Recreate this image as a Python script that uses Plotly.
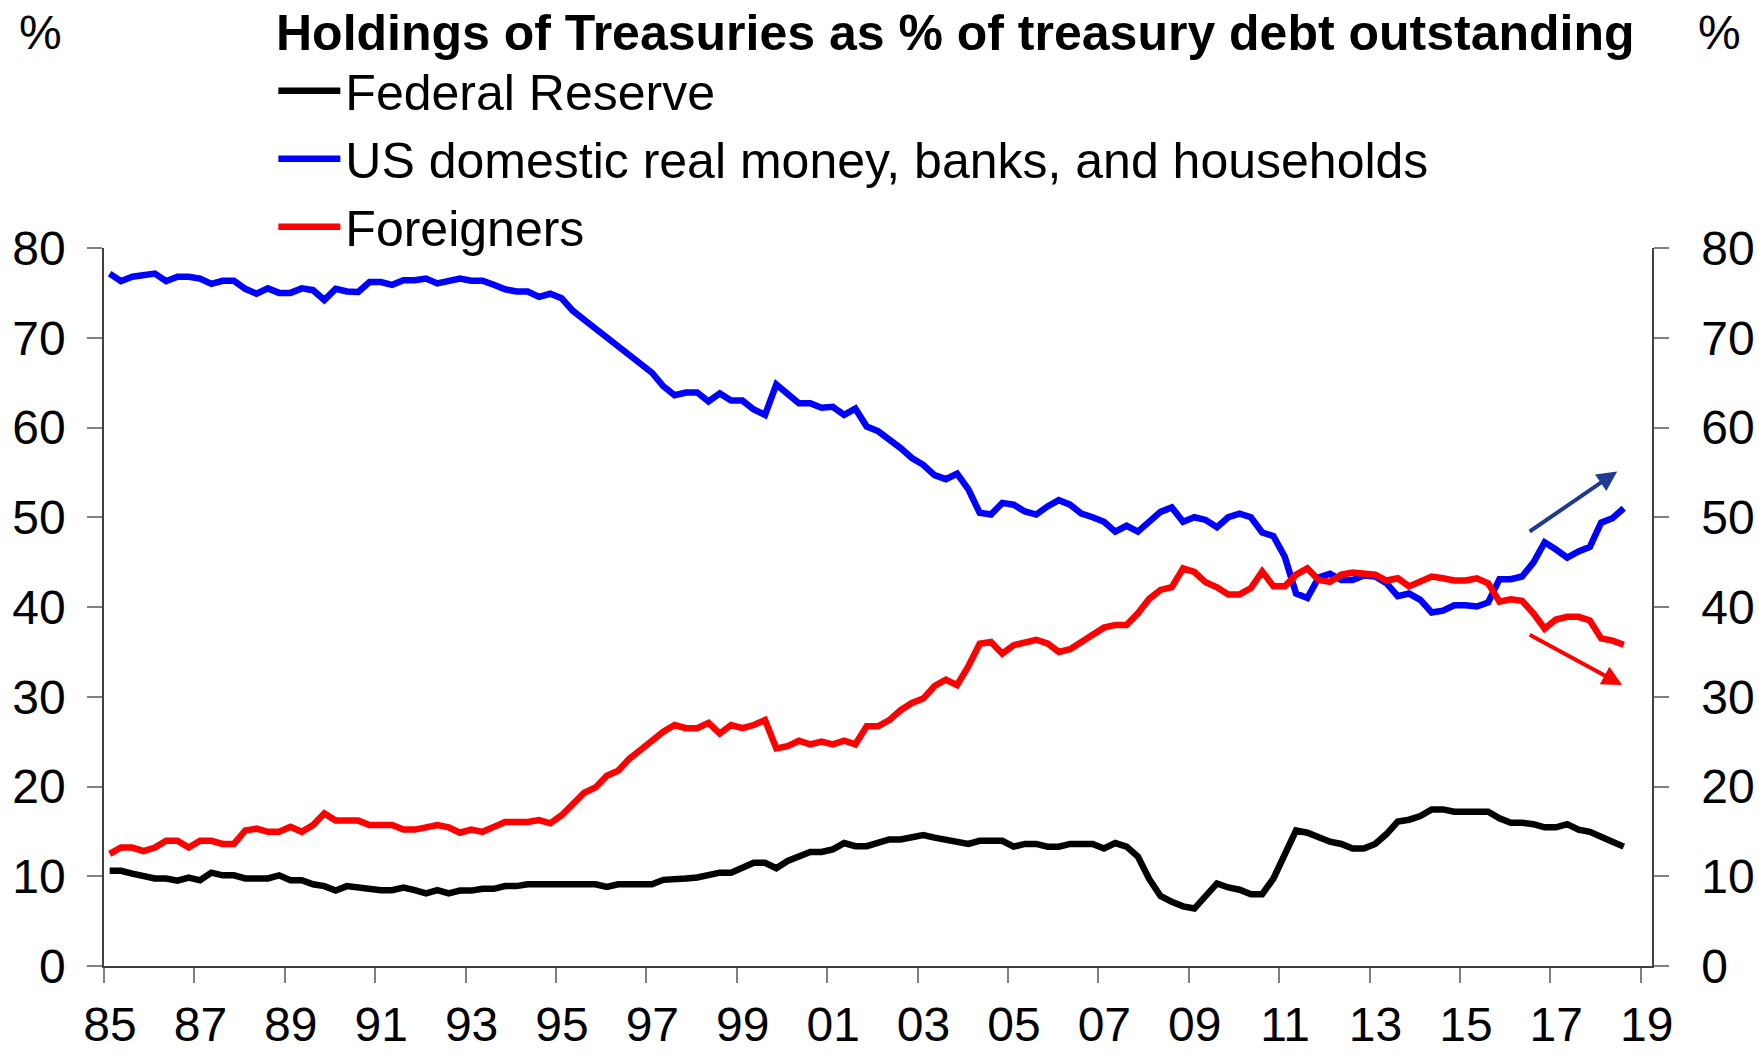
import plotly.graph_objects as go

# Quarterly data, 1985Q1 .. 2018Q3 (% of treasury debt outstanding)
federal_reserve = [
    10.6, 10.6, 10.3, 10.1, 9.75, 9.75, 9.5, 9.85, 9.55, 10.4,
    10.1, 10.1, 9.75, 9.75, 9.75, 10.1, 9.55, 9.55, 9.1, 8.9,
    8.4, 8.9, 8.75, 8.45, 8.45, 8.45, 8.75, 8.45, 8.1, 8.45,
    8.1, 8.4, 8.4, 8.6, 8.6, 8.9, 8.9, 9.1, 9.1, 9.1,
    9.1, 9.1, 9.1, 9.1, 8.8, 9.1, 9.1, 9.1, 9.1, 9.6,
    9.6, 9.75, 9.86, 10.1, 10.4, 10.4, 10.9, 11.5, 11.5, 10.9,
    11.7, 12.2, 12.7, 12.7, 13.0, 13.7, 13.35, 13.35, 13.8, 14.1,
    14.1, 14.3, 14.6, 14.3, 14.1, 13.8, 13.6, 13.95, 13.95, 13.95,
    13.3, 13.6, 13.6, 13.3, 13.3, 13.6, 13.6, 13.6, 13.1, 13.7,
    13.3, 12.2, 9.7, 7.8, 7.15, 6.65, 6.4, 7.9, 9.2, 8.75,
    8.5, 8.0, 8.0, 9.75, 12.55, 15.1, 14.85, 14.3, 13.85, 13.6,
    13.1, 13.1, 13.6, 14.7, 16.1, 16.3, 16.7, 17.45, 17.45, 17.2,
    17.2, 17.2, 17.2, 16.45, 15.95, 15.95, 15.8, 15.45, 15.45, 15.8,
    15.2, 14.95, 14.3, 13.85, 13.3,
]

us_domestic = [
    77.15, 76.3, 76.8, 77.0, 77.15, 76.3, 76.8, 76.8, 76.6, 76.0,
    76.35, 76.35, 75.45, 74.9, 75.5, 75.0, 75.0, 75.5, 75.3, 74.2,
    75.45, 75.15, 75.1, 76.2, 76.2, 75.9, 76.4, 76.4, 76.6, 76.05,
    76.35, 76.6, 76.35, 76.35, 75.9, 75.4, 75.15, 75.15, 74.55, 74.9,
    74.4, 73.0, 72.0, 71.0, 70.0, 69.1, 68.2, 67.1, 66.1, 64.6,
    63.6, 63.9, 63.9, 62.9, 63.8, 63.0, 63.0, 62.0, 61.4, 64.8,
    63.8, 62.7, 62.7, 62.2, 62.3, 61.4, 62.1, 60.1, 59.6, 58.7,
    57.7, 56.6, 55.85, 54.7, 54.25, 54.85, 53.1, 50.5, 50.3, 51.6,
    51.4, 50.65, 50.3, 51.2, 51.9, 51.4, 50.4, 50.0, 49.5, 48.4,
    49.05, 48.4, 49.6, 50.6, 51.1, 49.5, 50.0, 49.7, 48.9, 50.0,
    50.4, 50.0, 48.3, 47.9, 45.6, 41.5, 41.0, 43.3, 43.7, 43.0,
    43.0, 43.5, 43.4, 42.65, 41.2, 41.5, 40.8, 39.4, 39.6, 40.2,
    40.2, 40.05, 40.5, 43.1, 43.1, 43.4, 44.95, 47.2, 46.4, 45.5,
    46.2, 46.7, 49.4, 49.9, 51.0,
]

foreigners = [
    12.5, 13.2, 13.2, 12.8, 13.2, 13.95, 13.95, 13.2, 13.95, 13.95,
    13.6, 13.6, 15.1, 15.3, 14.95, 14.95, 15.5, 14.95, 15.7, 17.0,
    16.2, 16.2, 16.2, 15.7, 15.7, 15.7, 15.2, 15.2, 15.45, 15.7,
    15.45, 14.85, 15.2, 14.95, 15.5, 16.05, 16.05, 16.05, 16.25, 15.9,
    16.8, 18.15, 19.3, 19.9, 21.2, 21.75, 23.1, 24.1, 25.2, 26.1,
    26.85, 26.5, 26.5, 27.1, 25.9, 26.85, 26.5, 26.85, 27.4, 24.25,
    24.5, 25.1, 24.7, 25.0, 24.7, 25.1, 24.7, 26.7, 26.7, 27.4,
    28.5, 29.3, 29.8, 31.2, 31.9, 31.3, 33.4, 35.9, 36.1, 34.8,
    35.75, 36.1, 36.35, 35.95, 35.0, 35.3, 36.2, 36.9, 37.7, 38.0,
    38.0, 39.3, 40.9, 41.9, 42.2, 44.3, 43.9, 42.75, 42.2, 41.4,
    41.4, 42.1, 43.95, 42.3, 42.3, 43.6, 44.3, 43.0, 42.8, 43.6,
    43.85, 43.7, 43.6, 42.95, 43.2, 42.3, 42.8, 43.4, 43.2, 42.95,
    42.95, 43.2, 42.65, 40.6, 40.85, 40.7, 39.3, 37.6, 38.6, 38.9,
    38.9, 38.5, 36.5, 36.25, 35.8,
]

series_names = ["Federal Reserve", "US domestic real money, banks, and households", "Foreigners"]
series_colors = ["#000000", "#0000FF", "#FF0000"]
series_axes = ["y", "y", "y2"]  # both y axes share the same 0-80 scale

# Mid-quarter positions for 1985Q1 .. 2018Q3
first_year = 1985
quarter_pos = [first_year + 0.125 + 0.25 * i for i in range(len(federal_reserve))]

x_tick_years = list(range(1985, 2020, 2))
x_tick_labels = ["85", "87", "89", "91", "93", "95", "97", "99", "01", "03",
                 "05", "07", "09", "11", "13", "15", "17", "19"]
y_ticks = [0, 10, 20, 30, 40, 50, 60, 70, 80]

FONT = "Arial, 'Liberation Sans', sans-serif"
AXIS_LINE = "#404040"
TICK_GREY = "#808080"

fig = go.Figure()
for name, vals, col, yax in zip(series_names, [federal_reserve, us_domestic, foreigners],
                                series_colors, series_axes):
    fig.add_trace(go.Scatter(x=quarter_pos, y=vals, mode="lines", name=name, yaxis=yax,
                             line=dict(color=col, width=6.5)))

axis_common = dict(showgrid=False, zeroline=False, showline=True, linecolor=AXIS_LINE,
                   linewidth=1.5, ticks="outside", ticklen=15, tickwidth=1.5,
                   tickcolor=TICK_GREY, automargin=False, ticklabeloverflow="allow",
                   tickfont=dict(family=FONT, size=48, color="#000000"))

fig.update_layout(
    width=1759, height=1058,
    margin=dict(l=104, r=107, t=248, b=92, autoexpand=False),
    paper_bgcolor="white", plot_bgcolor="white",
    font=dict(family=FONT, color="#000000"),
    showlegend=True,
    legend=dict(x=0.1094, y=1.2735, xanchor="left", yanchor="top",
                font=dict(family=FONT, size=50, color="#000000"),
                bgcolor="rgba(0,0,0,0)", borderwidth=0, itemwidth=62, tracegroupgap=0),
    xaxis=dict(range=[1985, 2019.25], tickvals=x_tick_years, ticktext=x_tick_labels,
               ticklabelstandoff=1, ticklabelshift=6, **axis_common),
    yaxis=dict(range=[0, 80], tickvals=y_ticks, ticklabelstandoff=12, side="left",
               **axis_common),
    yaxis2=dict(range=[0, 80], tickvals=y_ticks, ticklabelstandoff=23, side="right",
                overlaying="y", anchor="x", **axis_common),
)

# Title and unit labels
fig.add_annotation(text="<b>Holdings of Treasuries as % of treasury debt outstanding</b>",
                   xref="paper", yref="paper", x=0.55, y=1.300, xanchor="center", yanchor="middle",
                   showarrow=False, font=dict(family=FONT, size=50, color="#000000"))
fig.add_annotation(text="%", xref="paper", yref="paper", x=-0.0407, y=1.300,
                   xanchor="center", yanchor="middle", showarrow=False,
                   font=dict(family=FONT, size=48, color="#000000"))
fig.add_annotation(text="%", xref="paper", yref="paper", x=1.0436, y=1.300,
                   xanchor="center", yanchor="middle", showarrow=False,
                   font=dict(family=FONT, size=48, color="#000000"))

# Trend arrows (tail -> head, in data coordinates)
arrow_up = dict(tail=(2016.51, 48.3), head=(2018.48, 55.1), color="#1F3A93")
arrow_down = dict(tail=(2016.51, 37.0), head=(2018.59, 31.3), color="#FF0000")
for arr in (arrow_up, arrow_down):
    fig.add_annotation(x=arr["head"][0], y=arr["head"][1], ax=arr["tail"][0], ay=arr["tail"][1],
                       xref="x", yref="y", axref="x", ayref="y", text="", showarrow=True,
                       arrowhead=2, arrowsize=1, arrowwidth=4, arrowcolor=arr["color"])

fig.write_html("out.html", config={"displayModeBar": False},
               post_script="document.body.style.margin='0';")
